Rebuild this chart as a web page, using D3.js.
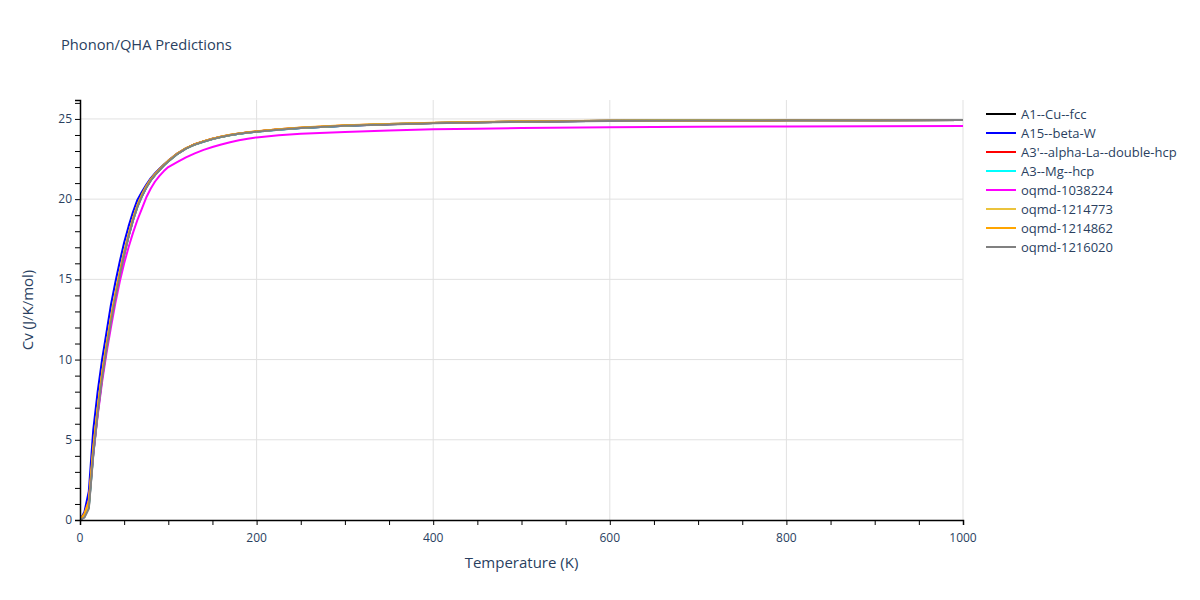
<!DOCTYPE html>
<html>
<head>
<meta charset="utf-8">
<script src="https://cdn.jsdelivr.net/npm/d3@7"></script>
<style>
  body { margin: 0; background: #fff; }
  svg { display: block; }
  text { font-family: "Open Sans", "Noto Sans", sans-serif; fill: #2a3f5f; }
</style>
</head>
<body>
<svg id="chart" width="1200" height="600"></svg>
<script>
// ---- data ----
const temperature = [0,5,10,15,20,25,30,35,40,45,50,55,60,65,70,75,80,85,90,95,100,110,120,130,140,150,160,170,180,190,200,225,250,300,350,400,450,500,600,700,800,900,1000];

const cuFcc       = [0,0.2,0.8,4.1,6.7,8.9,10.7,12.4,13.9,15.3,16.55,17.7,18.7,19.55,20.2,20.73,21.17,21.52,21.82,22.11,22.36,22.81,23.16,23.41,23.59,23.75,23.88,23.99,24.08,24.15,24.21,24.34,24.44,24.58,24.67,24.74,24.79,24.83,24.88,24.9,24.91,24.92,24.93];
const betaW       = [0,0.5,1.8,5.6,8.0,10.0,11.7,13.4,14.8,16.1,17.3,18.3,19.2,19.95,20.45,20.9,21.3,21.62,21.9,22.16,22.4,22.84,23.17,23.42,23.6,23.76,23.89,24.0,24.08,24.15,24.21,24.34,24.44,24.58,24.67,24.74,24.79,24.83,24.88,24.9,24.91,24.92,24.93];
const alphaLa     = [0,0.3,1.0,4.3,6.8,9.0,10.8,12.45,13.95,15.35,16.6,17.72,18.72,19.56,20.2,20.74,21.18,21.53,21.83,22.12,22.37,22.82,23.17,23.42,23.6,23.76,23.89,24.0,24.09,24.16,24.22,24.35,24.45,24.59,24.68,24.75,24.8,24.84,24.88,24.9,24.91,24.92,24.93];
const mgHcp       = [0,0.25,0.9,4.1,6.65,8.85,10.65,12.35,13.85,15.25,16.52,17.67,18.67,19.52,20.16,20.71,21.16,21.51,21.81,22.1,22.35,22.8,23.15,23.4,23.58,23.74,23.87,23.98,24.07,24.14,24.2,24.33,24.44,24.58,24.68,24.75,24.8,24.84,24.89,24.91,24.92,24.92,24.93];
const oqmd1038224 = [0,0.3,1.2,4.1,6.5,8.6,10.4,12.0,13.5,14.85,16.0,17.0,17.9,18.7,19.4,20.1,20.65,21.1,21.45,21.75,22.0,22.3,22.6,22.85,23.07,23.25,23.41,23.55,23.67,23.77,23.85,23.98,24.07,24.19,24.28,24.35,24.39,24.43,24.48,24.51,24.53,24.54,24.56];
const oqmd1214773 = [0,0.3,1.0,4.4,6.9,9.05,10.85,12.5,14.0,15.4,16.65,17.78,18.77,19.6,20.24,20.77,21.2,21.54,21.84,22.13,22.38,22.83,23.17,23.42,23.6,23.76,23.89,24.0,24.09,24.16,24.22,24.35,24.45,24.59,24.68,24.75,24.8,24.84,24.88,24.9,24.91,24.92,24.93];
const oqmd1214862 = [0,0.4,1.2,4.5,7.0,9.15,10.95,12.6,14.1,15.45,16.7,17.8,18.8,19.62,20.27,20.8,21.23,21.57,21.86,22.14,22.39,22.84,23.18,23.43,23.61,23.77,23.9,24.01,24.1,24.17,24.23,24.36,24.46,24.6,24.69,24.76,24.81,24.85,24.88,24.9,24.91,24.92,24.93];
const oqmd1216020 = [0,0.15,0.7,4.0,6.6,8.8,10.6,12.3,13.8,15.2,16.5,17.65,18.65,19.5,20.15,20.7,21.15,21.5,21.8,22.1,22.35,22.8,23.15,23.4,23.58,23.74,23.87,23.98,24.07,24.14,24.2,24.33,24.43,24.57,24.66,24.73,24.78,24.82,24.87,24.9,24.91,24.92,24.93];

const seriesNames  = ["A1--Cu--fcc","A15--beta-W","A3'--alpha-La--double-hcp","A3--Mg--hcp","oqmd-1038224","oqmd-1214773","oqmd-1214862","oqmd-1216020"];
const seriesValues = [cuFcc, betaW, alphaLa, mgHcp, oqmd1038224, oqmd1214773, oqmd1214862, oqmd1216020];
const seriesColors = ["#000000","#0000ff","#ff0000","#00ffff","#ff00ff","#ebc33c","#ffa500","#808080"];

const xTicks = [0,200,400,600,800,1000];
const yTicks = [0,5,10,15,20,25];

// ---- layout ----
const svg = d3.select("#chart");
const padL = 80, padR = 963, padT = 100, padB = 520;

const x = d3.scaleLinear().domain([0, 1000]).range([padL, padR]);
const y = d3.scaleLinear().domain([0, 26.18]).range([padB, padT]);

// gridlines
const grid = svg.append("g");
grid.selectAll("line.gx").data(xTicks.filter(d => d !== 0)).join("line")
  .attr("x1", d => x(d)).attr("x2", d => x(d)).attr("y1", padT).attr("y2", padB)
  .attr("stroke", "#e1e1e1").attr("stroke-width", 1);
grid.selectAll("line.gy").data(yTicks.filter(d => d !== 0)).join("line")
  .attr("x1", padL).attr("x2", padR).attr("y1", d => y(d)).attr("y2", d => y(d))
  .attr("stroke", "#e1e1e1").attr("stroke-width", 1);

// clip
svg.append("clipPath").attr("id", "clip").append("rect")
  .attr("x", padL).attr("y", padT).attr("width", padR - padL).attr("height", padB - padT);

// lines
const line = d3.line().x((d, i) => x(temperature[i])).y(d => y(d));
const plot = svg.append("g").attr("clip-path", "url(#clip)");
seriesValues.forEach((vals, k) => {
  plot.append("path").datum(vals)
    .attr("d", line)
    .attr("fill", "none")
    .attr("stroke", seriesColors[k])
    .attr("stroke-width", 2)
    .attr("stroke-linejoin", "round");
});

// axes
const xMinor = d3.range(0, 1001, 50);
const yMinor = d3.range(0, 27, 1);

const xAxis = svg.append("g").attr("transform", `translate(0,${padB})`)
  .call(d3.axisBottom(x).tickValues(xMinor).tickSize(5).tickFormat(""));
xAxis.select(".domain").attr("stroke", "#000").attr("stroke-width", 1.5);
xAxis.selectAll(".tick line").attr("stroke", "#000");
svg.append("g").selectAll("text").data(xTicks).join("text")
  .attr("x", d => x(d)).attr("y", padB + 22)
  .attr("text-anchor", "middle").attr("font-size", 12).text(d => d);

const yAxis = svg.append("g").attr("transform", `translate(${padL},0)`)
  .call(d3.axisLeft(y).tickValues(yMinor).tickSize(5).tickFormat(""));
yAxis.select(".domain").attr("stroke", "#000").attr("stroke-width", 1.5);
yAxis.selectAll(".tick line").attr("stroke", "#000");
svg.append("g").selectAll("text").data(yTicks).join("text")
  .attr("x", padL - 8).attr("y", d => y(d) + 4)
  .attr("text-anchor", "end").attr("font-size", 12).text(d => d);

// titles
svg.append("text").attr("x", 61).attr("y", 50).attr("font-size", 14.7).text("Phonon/QHA Predictions");
svg.append("text").attr("x", (padL + padR) / 2).attr("y", 568).attr("text-anchor", "middle")
  .attr("font-size", 15).text("Temperature (K)");
svg.append("text").attr("transform", `translate(33,${(padT + padB) / 2}) rotate(-90)`)
  .attr("text-anchor", "middle").attr("font-size", 15).text("Cv (J/K/mol)");

// legend
const legend = svg.append("g");
seriesNames.forEach((name, k) => {
  const ly = 114 + k * 19;
  legend.append("line").attr("x1", 986).attr("x2", 1016).attr("y1", ly).attr("y2", ly)
    .attr("stroke", seriesColors[k]).attr("stroke-width", 2);
  legend.append("text").attr("x", 1021).attr("y", ly + 4.5).attr("font-size", 13).text(name);
});
</script>
</body>
</html>
